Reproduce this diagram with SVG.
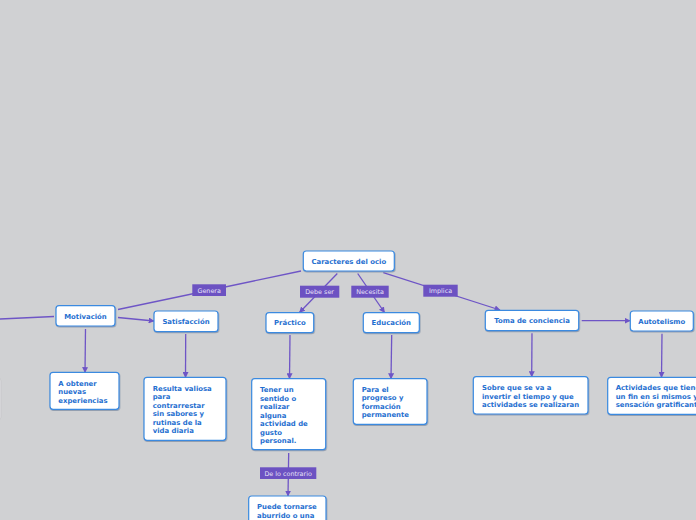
<svg xmlns="http://www.w3.org/2000/svg" width="696" height="520" viewBox="0 0 696 520">
<defs>
<style>
.box{fill:#ffffff;stroke:#3a8ae0;stroke-width:1.2}
.t{font-family:"DejaVu Sans",Verdana,sans-serif;font-weight:bold;font-size:6.9px;fill:#1f6fd0}
.tc{text-anchor:middle}
.lb{fill:#6c52c2}
.lt{font-family:"DejaVu Sans",Verdana,sans-serif;font-size:6.4px;fill:#e6e1f7;text-anchor:middle}
.c{stroke:#6e55c6;stroke-width:1.3;fill:none}
.a{marker-end:url(#ar)}
</style>
<marker id="ar" viewBox="0 0 10 10" refX="9" refY="5" markerWidth="6" markerHeight="6" markerUnits="userSpaceOnUse" orient="auto">
<path d="M0,0 L10,5 L0,10 z" fill="#6e55c6"/>
</marker>
<filter id="sh" x="-10%" y="-10%" width="130%" height="140%">
<feDropShadow dx="0.6" dy="1" stdDeviation="0.6" flood-color="#6a7f99" flood-opacity="0.6"/>
</filter>
</defs>
<rect width="696" height="520" fill="#d0d1d3"/>
<rect x="-60" y="378" width="61" height="42" rx="3" fill="#dcdcde" stroke="#c4c5c8" stroke-width="0.6"/>

<g id="connectors">
<line class="c" x1="301" y1="271" x2="118" y2="309.5"/>
<line class="c" x1="54" y1="316.5" x2="0" y2="319"/>
<line class="c a" x1="118" y1="317.5" x2="154" y2="321"/>
<line class="c a" x1="85.5" y1="329" x2="85" y2="372.5"/>
<line class="c a" x1="185.7" y1="334" x2="185.5" y2="377.5"/>
<line class="c a" x1="337.3" y1="273.5" x2="299.5" y2="312.5"/>
<line class="c a" x1="357.7" y1="273.5" x2="384.5" y2="312.5"/>
<line class="c a" x1="383.3" y1="272.7" x2="500" y2="310"/>
<line class="c a" x1="581.7" y1="320.7" x2="630" y2="320.7"/>
<line class="c a" x1="290" y1="335" x2="289.5" y2="378.7"/>
<line class="c a" x1="391.7" y1="335" x2="391" y2="378.7"/>
<line class="c a" x1="532" y1="333.3" x2="531.7" y2="376.7"/>
<line class="c a" x1="662" y1="333.7" x2="661.5" y2="377.3"/>
<line class="c a" x1="288.7" y1="453" x2="288" y2="496"/>
</g>

<g id="labels">
<rect class="lb" x="192.3" y="284.3" width="33.7" height="11.7"/>
<text class="lt" x="209.2" y="292.6">Genera</text>
<rect class="lb" x="300" y="285.7" width="39.3" height="12"/>
<text class="lt" x="319.6" y="294">Debe ser</text>
<rect class="lb" x="351.3" y="285.7" width="37.4" height="12"/>
<text class="lt" x="370" y="294">Necesita</text>
<rect class="lb" x="423.3" y="284.7" width="34.4" height="12"/>
<text class="lt" x="440.5" y="293">Implica</text>
<rect class="lb" x="260" y="467.3" width="56.3" height="11.7"/>
<text class="lt" x="288.1" y="475.6">De lo contrario</text>
</g>

<g id="n-caracteres">
<rect class="box" filter="url(#sh)" x="303.3" y="251" width="91" height="20" rx="3"/>
<text class="t tc" x="348.8" y="263.5">Caracteres del ocio</text>
</g>
<g id="n-motivacion">
<rect class="box" filter="url(#sh)" x="56" y="305.7" width="59" height="20.3" rx="3"/>
<text class="t tc" x="85.5" y="318.5">Motivación</text>
</g>
<g id="n-satisfaccion">
<rect class="box" filter="url(#sh)" x="154" y="311" width="64" height="20.7" rx="3"/>
<text class="t tc" x="186" y="324">Satisfacción</text>
</g>
<g id="n-practico">
<rect class="box" filter="url(#sh)" x="266" y="312.7" width="47.7" height="20" rx="3"/>
<text class="t tc" x="289.9" y="325.3">Práctico</text>
</g>
<g id="n-educacion">
<rect class="box" filter="url(#sh)" x="363.3" y="312.7" width="56" height="20" rx="3"/>
<text class="t tc" x="391.3" y="325.3">Educación</text>
</g>
<g id="n-toma">
<rect class="box" filter="url(#sh)" x="485.3" y="310.3" width="93.4" height="20.4" rx="3"/>
<text class="t tc" x="532" y="323">Toma de conciencia</text>
</g>
<g id="n-autotelismo">
<rect class="box" filter="url(#sh)" x="630.3" y="311" width="63" height="20" rx="3"/>
<text class="t tc" x="661.8" y="323.5">Autotelismo</text>
</g>

<g id="n-obtener">
<rect class="box" filter="url(#sh)" x="50" y="372.3" width="69" height="37" rx="3"/>
<text class="t" x="58.3" y="386">A obtener</text>
<text class="t" x="58.3" y="394.3">nuevas</text>
<text class="t" x="58.3" y="402.6">experiencias</text>
</g>
<g id="n-resulta">
<rect class="box" filter="url(#sh)" x="144" y="377.3" width="82" height="63" rx="3"/>
<text class="t" x="152.7" y="390.7">Resulta valiosa</text>
<text class="t" x="152.7" y="399.2">para</text>
<text class="t" x="152.7" y="407.7">contrarrestar</text>
<text class="t" x="152.7" y="416.2">sin sabores y</text>
<text class="t" x="152.7" y="424.7">rutinas de la</text>
<text class="t" x="152.7" y="433.2">vida diaria</text>
</g>
<g id="n-tener">
<rect class="box" filter="url(#sh)" x="251.7" y="378.7" width="74" height="71" rx="3"/>
<text class="t" x="260" y="392">Tener un</text>
<text class="t" x="260" y="400.55">sentido o</text>
<text class="t" x="260" y="409.1">realizar</text>
<text class="t" x="260" y="417.65">alguna</text>
<text class="t" x="260" y="426.2">actividad de</text>
<text class="t" x="260" y="434.75">gusto</text>
<text class="t" x="260" y="443.3">personal.</text>
</g>
<g id="n-progreso">
<rect class="box" filter="url(#sh)" x="353.3" y="378.7" width="73.7" height="45.6" rx="3"/>
<text class="t" x="361.7" y="392">Para el</text>
<text class="t" x="361.7" y="400.4">progreso y</text>
<text class="t" x="361.7" y="408.8">formación</text>
<text class="t" x="361.7" y="417.3">permanente</text>
</g>
<g id="n-puede">
<rect class="box" filter="url(#sh)" x="248.7" y="496" width="77.3" height="40" rx="3"/>
<text class="t" x="257" y="509.3">Puede tornarse</text>
<text class="t" x="257" y="517.7">aburrido o una</text>
</g>
<g id="n-sobre">
<rect class="box" filter="url(#sh)" x="473.3" y="376.7" width="114.7" height="37.3" rx="3"/>
<text class="t" x="482" y="390">Sobre que se va a</text>
<text class="t" x="482" y="398.5">invertir el tiempo y que</text>
<text class="t" x="482" y="407">actividades se realizaran</text>
</g>
<g id="n-actividades">
<rect class="box" filter="url(#sh)" x="607.7" y="377.3" width="110" height="37" rx="3"/>
<text class="t" x="615.7" y="390">Actividades que tienen</text>
<text class="t" x="615.7" y="398.5">un fin en si mismos y</text>
<text class="t" x="615.7" y="407">sensación gratificante</text>
</g>
</svg>
